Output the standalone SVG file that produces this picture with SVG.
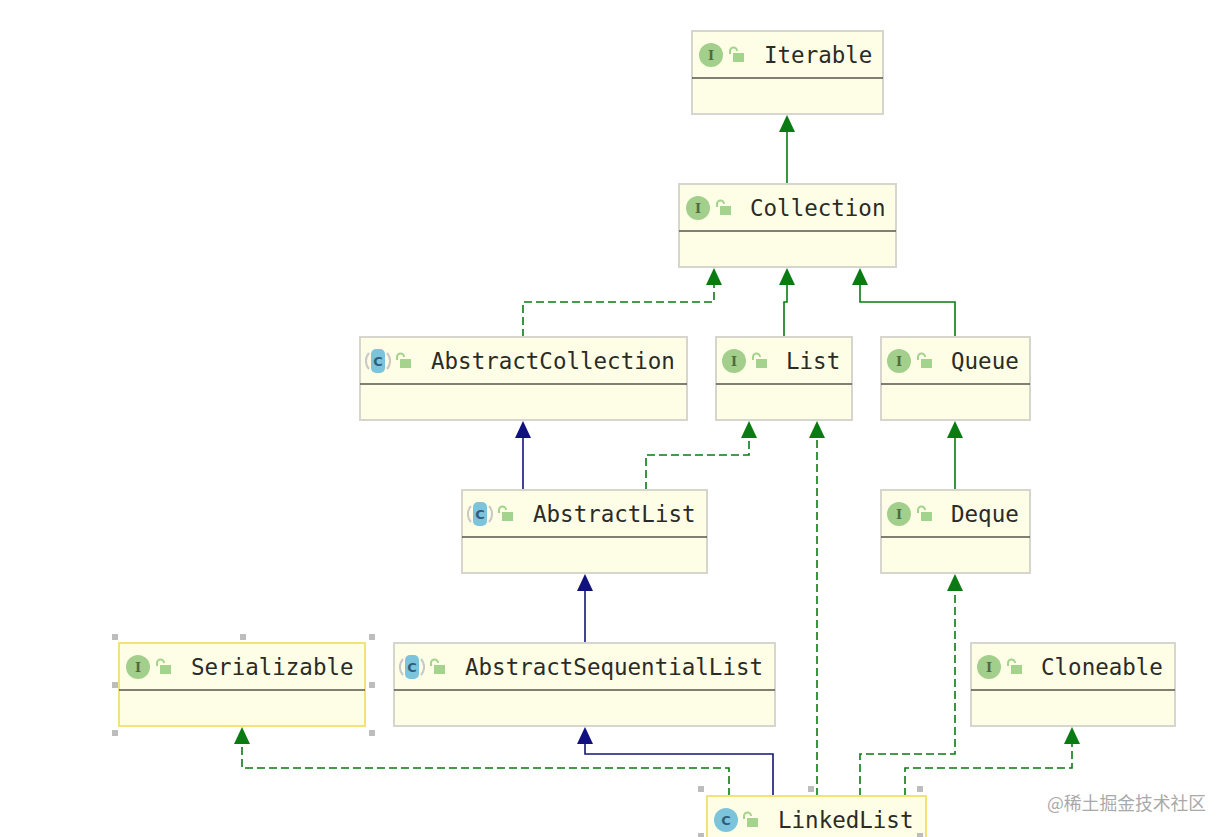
<svg xmlns="http://www.w3.org/2000/svg" width="1230" height="837" viewBox="0 0 1230 837">
<style>
.box{fill:#fefee6;stroke:#d6d6ce;stroke-width:2}
.sel{fill:#fefee6;stroke:#f3e27a;stroke-width:2}
.sep{stroke:#55554d;stroke-width:1.5}
.name{font-family:"DejaVu Sans Mono","Liberation Mono",monospace;font-size:22.5px;fill:#2b2b26}
.ltr{font-family:"DejaVu Serif","Liberation Serif",serif;font-size:13px;font-weight:bold;fill:#4f6b3c;text-anchor:middle}
.ltc{font-family:"DejaVu Sans","Liberation Sans",sans-serif;font-size:13px;font-weight:bold;fill:#2f5f78;text-anchor:middle}
.ci{fill:#a3cf8c}
.cc{fill:#7cc4dc}
.paren{fill:none;stroke:#c8c8c8;stroke-width:2}
.lk{fill:#a3d38c}
.lks{fill:none;stroke:#a3d38c;stroke-width:2}
.g{fill:none;stroke:#0a7a12;stroke-width:1.6}
.gd{fill:none;stroke:#0a7a12;stroke-width:1.6;stroke-dasharray:8 4}
.n{fill:none;stroke:#14147a;stroke-width:1.6}
.h{fill:#bdbdbd}
.wm{font-family:"Noto Sans CJK SC","Liberation Sans",sans-serif;font-size:17.8px;fill:#a9a9a9}
</style>
<defs>
<marker id="ag" markerUnits="userSpaceOnUse" markerWidth="18" markerHeight="18" refX="0" refY="9" orient="auto"><path d="M0,1 L17,9 L0,17z" fill="#0a7a12"/></marker>
<marker id="an" markerUnits="userSpaceOnUse" markerWidth="18" markerHeight="18" refX="0" refY="9" orient="auto"><path d="M0,1 L17,9 L0,17z" fill="#10107e"/></marker>
<g id="lock"><rect x="-4" y="-3" width="11" height="9" class="lk"/><path d="M-7,-2 V-5 A3.5,3.5 0 0 1 0,-5" class="lks"/></g>
<g id="paren"><path d="M-9,-8 A12,12 0 0 0 -9,8 M9,-8 A12,12 0 0 1 9,8" class="paren"/><rect x="-7" y="-12" width="14" height="24" rx="5" class="cc"/></g>
</defs>
<rect width="1230" height="837" fill="#fff"/>
<g id="connectors">
<path class="g" d="M787,184 V132" marker-end="url(#ag)"/>
<path class="gd" d="M523,337 V302 H714 V285" marker-end="url(#ag)"/>
<path class="g" d="M784,337 V302 H787 V285" marker-end="url(#ag)"/>
<path class="g" d="M955,337 V302 H860 V285" marker-end="url(#ag)"/>
<path class="n" d="M523,490 V438" marker-end="url(#an)"/>
<path class="gd" d="M646,490 V455 H749 V438" marker-end="url(#ag)"/>
<path class="gd" d="M817,796 V438" marker-end="url(#ag)"/>
<path class="g" d="M955,490 V438" marker-end="url(#ag)"/>
<path class="n" d="M585,643 V591" marker-end="url(#an)"/>
<path class="n" d="M773,796 V754 H585 V744" marker-end="url(#an)"/>
<path class="gd" d="M729,796 V768 H242 V744" marker-end="url(#ag)"/>
<path class="gd" d="M860,796 V754 H955 V591" marker-end="url(#ag)"/>
<path class="gd" d="M905,796 V768 H1072 V744" marker-end="url(#ag)"/>
</g>
<g id="node-iterable"><rect class="box" x="692" y="31" width="191" height="83"/><line class="sep" x1="692" y1="78" x2="883" y2="78"/><circle class="ci" cx="711" cy="55" r="12"/><text class="ltr" x="711" y="60">I</text><use href="#lock" x="737" y="56"/><text class="name" x="764" y="63">Iterable</text></g>
<g id="node-collection"><rect class="box" x="679" y="184" width="217" height="83"/><line class="sep" x1="679" y1="231" x2="896" y2="231"/><circle class="ci" cx="698" cy="208" r="12"/><text class="ltr" x="698" y="213">I</text><use href="#lock" x="724" y="209"/><text class="name" x="750" y="216">Collection</text></g>
<g id="node-abstractcollection"><rect class="box" x="360" y="337" width="327" height="83"/><line class="sep" x1="360" y1="384" x2="687" y2="384"/><use href="#paren" x="378" y="361"/><text class="ltc" x="378" y="366">C</text><use href="#lock" x="404" y="362"/><text class="name" x="431" y="369">AbstractCollection</text></g>
<g id="node-list"><rect class="box" x="716" y="337" width="136" height="83"/><line class="sep" x1="716" y1="384" x2="852" y2="384"/><circle class="ci" cx="734" cy="361" r="12"/><text class="ltr" x="734" y="366">I</text><use href="#lock" x="760" y="362"/><text class="name" x="786" y="369">List</text></g>
<g id="node-queue"><rect class="box" x="881" y="337" width="149" height="83"/><line class="sep" x1="881" y1="384" x2="1030" y2="384"/><circle class="ci" cx="899" cy="361" r="12"/><text class="ltr" x="899" y="366">I</text><use href="#lock" x="925" y="362"/><text class="name" x="951" y="369">Queue</text></g>
<g id="node-abstractlist"><rect class="box" x="462" y="490" width="245" height="83"/><line class="sep" x1="462" y1="537" x2="707" y2="537"/><use href="#paren" x="480" y="514"/><text class="ltc" x="480" y="519">C</text><use href="#lock" x="506" y="515"/><text class="name" x="533" y="522">AbstractList</text></g>
<g id="node-deque"><rect class="box" x="881" y="490" width="149" height="83"/><line class="sep" x1="881" y1="537" x2="1030" y2="537"/><circle class="ci" cx="899" cy="514" r="12"/><text class="ltr" x="899" y="519">I</text><use href="#lock" x="925" y="515"/><text class="name" x="951" y="522">Deque</text></g>
<g id="node-serializable"><rect class="sel" x="119" y="643" width="246" height="83"/><line class="sep" x1="119" y1="690" x2="365" y2="690"/><circle class="ci" cx="138" cy="667" r="12"/><text class="ltr" x="138" y="672">I</text><use href="#lock" x="164" y="668"/><text class="name" x="191" y="675">Serializable</text>
<rect class="h" x="112" y="634" width="6" height="6"/><rect class="h" x="240" y="634" width="6" height="6"/><rect class="h" x="369" y="634" width="6" height="6"/><rect class="h" x="112" y="682" width="6" height="6"/><rect class="h" x="369" y="682" width="6" height="6"/><rect class="h" x="112" y="730" width="6" height="6"/><rect class="h" x="369" y="730" width="6" height="6"/></g>
<g id="node-abstractsequentiallist"><rect class="box" x="394" y="643" width="381" height="83"/><line class="sep" x1="394" y1="690" x2="775" y2="690"/><use href="#paren" x="412" y="667"/><text class="ltc" x="412" y="672">C</text><use href="#lock" x="438" y="668"/><text class="name" x="465" y="675">AbstractSequentialList</text></g>
<g id="node-cloneable"><rect class="box" x="971" y="643" width="204" height="83"/><line class="sep" x1="971" y1="690" x2="1175" y2="690"/><circle class="ci" cx="989" cy="667" r="12"/><text class="ltr" x="989" y="672">I</text><use href="#lock" x="1015" y="668"/><text class="name" x="1041" y="675">Cloneable</text></g>
<g id="node-linkedlist"><rect class="sel" x="707" y="796" width="219" height="60"/><circle class="cc" cx="726" cy="820" r="12"/><text class="ltc" x="726" y="825">C</text><use href="#lock" x="751" y="821"/><text class="name" x="778" y="828">LinkedList</text>
<rect class="h" x="698" y="786" width="6" height="6"/><rect class="h" x="808" y="786" width="6" height="6"/><rect class="h" x="917" y="786" width="6" height="6"/><rect class="h" x="698" y="833" width="6" height="6"/><rect class="h" x="917" y="833" width="6" height="6"/></g>
<text class="wm" x="1047" y="810">@稀土掘金技术社区</text>
</svg>
